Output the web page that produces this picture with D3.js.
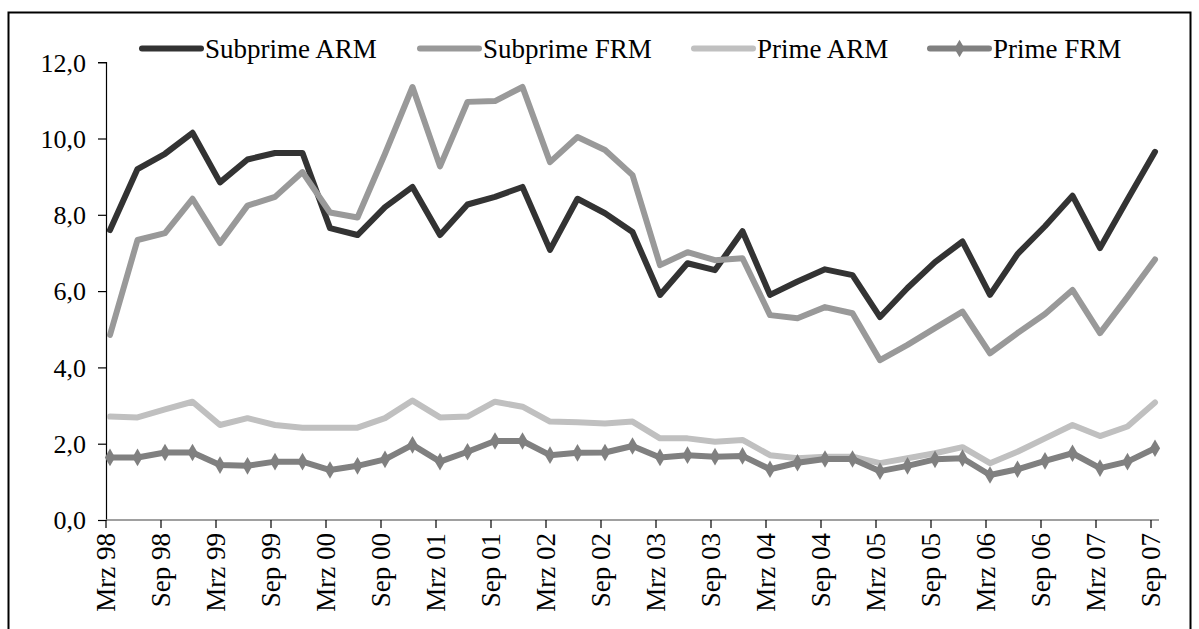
<!DOCTYPE html>
<meta charset="utf-8">
<style>
    body { margin: 0; background: #fff; }
    svg { display: block; }
    text { font-family: "Liberation Serif", "Times New Roman", serif; fill: #000; }
</style>
<body>
<svg width="1199" height="629"></svg>
<script src="https://d3js.org/d3.v7.min.js"></script>
<script>
    // quarters Mrz 98 .. Sep 07
    var quarters = ["Mrz 98","Jun 98","Sep 98","Dez 98","Mrz 99","Jun 99","Sep 99","Dez 99",
        "Mrz 00","Jun 00","Sep 00","Dez 00","Mrz 01","Jun 01","Sep 01","Dez 01",
        "Mrz 02","Jun 02","Sep 02","Dez 02","Mrz 03","Jun 03","Sep 03","Dez 03",
        "Mrz 04","Jun 04","Sep 04","Dez 04","Mrz 05","Jun 05","Sep 05","Dez 05",
        "Mrz 06","Jun 06","Sep 06","Dez 06","Mrz 07","Jun 07","Sep 07"];
    var tickLabels = ["Mrz 98","Sep 98","Mrz 99","Sep 99","Mrz 00","Sep 00","Mrz 01","Sep 01",
        "Mrz 02","Sep 02","Mrz 03","Sep 03","Mrz 04","Sep 04","Mrz 05","Sep 05",
        "Mrz 06","Sep 06","Mrz 07","Sep 07"];
    var yTicks = [0, 2, 4, 6, 8, 10, 12];

    var subprimeARM = [7.6,9.2,9.6,10.15,8.85,9.45,9.62,9.62,7.65,7.47,8.2,8.73,7.47,8.27,8.47,8.73,
        7.08,8.42,8.04,7.55,5.9,6.73,6.55,7.57,5.9,6.25,6.57,6.42,5.32,6.08,6.76,7.3,
        5.9,6.97,7.7,8.5,7.13,8.4,9.65];
    var subprimeFRM = [4.85,7.34,7.52,8.42,7.26,8.24,8.47,9.12,8.06,7.93,9.6,11.35,9.27,10.96,10.98,11.35,
        9.38,10.04,9.7,9.04,6.68,7.02,6.81,6.86,5.37,5.29,5.58,5.42,4.19,4.59,5.03,5.46,
        4.37,4.9,5.4,6.03,4.9,5.85,6.83];
    var primeARM = [2.71,2.69,2.9,3.1,2.49,2.67,2.49,2.42,2.42,2.42,2.67,3.13,2.69,2.71,3.1,2.97,
        2.58,2.56,2.53,2.58,2.14,2.14,2.05,2.1,1.7,1.62,1.66,1.66,1.49,1.62,1.75,1.91,
        1.49,1.79,2.14,2.49,2.2,2.45,3.08];
    var primeFRM = [1.64,1.64,1.77,1.77,1.44,1.42,1.53,1.53,1.31,1.42,1.59,1.97,1.53,1.79,2.07,2.07,
        1.7,1.76,1.77,1.94,1.64,1.7,1.66,1.68,1.33,1.5,1.6,1.6,1.28,1.42,1.59,1.62,
        1.18,1.33,1.55,1.75,1.36,1.53,1.88];

    var seriesNames = ["Subprime ARM", "Subprime FRM", "Prime ARM", "Prime FRM"];
    var seriesValues = [subprimeARM, subprimeFRM, primeARM, primeFRM];
    var seriesColors = ["#333333", "#999999", "#c0c0c0", "#808080"];

    var svg = d3.select("svg");

    // outer frame
    svg.append("rect")
        .attr("x", 8.5).attr("y", 12.5)
        .attr("width", 1182).attr("height", 640)
        .attr("fill", "none").attr("stroke", "#000").attr("stroke-width", 2);

    var x = d3.scaleLinear().domain([0, quarters.length - 1]).range([110, 1155]);
    var xTick = d3.scaleLinear().domain([0, quarters.length - 1]).range([106, 1151]);
    var y = d3.scaleLinear().domain([0, 12]).range([520, 62.2]);

    // y axis
    var gy = svg.append("g")
        .attr("transform", "translate(106,0)")
        .call(d3.axisLeft(y).tickValues(yTicks).tickSize(8).tickPadding(12)
            .tickFormat(function(d) { return d3.format(".1f")(d).replace(".", ","); }));
    gy.attr("font-family", "Liberation Serif").attr("font-size", 26);
    gy.select(".domain").attr("stroke", "#000").attr("stroke-width", 1.2);
    gy.selectAll(".tick line").attr("stroke", "#000").attr("stroke-width", 1.2);
    gy.selectAll(".tick text").attr("dy", "0.34em");

    // x axis
    var gx = svg.append("g")
        .attr("transform", "translate(0,520)");
    gx.append("line")
        .attr("x1", xTick(0)).attr("x2", 1159)
        .attr("stroke", "#808080").attr("stroke-width", 1.5);
    var tk = gx.selectAll(".xt").data(tickLabels).enter().append("g")
        .attr("class", "xt")
        .attr("transform", function(d, i) { return "translate(" + xTick(i * 2) + ",0)"; });
    tk.append("line").attr("y2", 8).attr("stroke", "#000").attr("stroke-width", 1.2);
    tk.append("text")
        .attr("transform", "translate(0,13) rotate(-90)")
        .attr("text-anchor", "end")
        .attr("dy", "0.34em")
        .attr("font-size", "27px")
        .text(function(d) { return d; });

    // lines
    var line = d3.line()
        .x(function(d, i) { return x(i); })
        .y(function(d) { return y(d); });

    seriesValues.forEach(function(vals, k) {
        svg.append("path")
            .datum(vals)
            .attr("fill", "none")
            .attr("stroke", seriesColors[k])
            .attr("stroke-width", 6)
            .attr("stroke-linejoin", "round")
            .attr("stroke-linecap", "round")
            .attr("d", line);
    });

    var diamond = d3.symbol().type(d3.symbolDiamond).size(90);
    svg.append("g").selectAll("path")
        .data(primeFRM)
        .enter().append("path")
        .attr("transform", function(d, i) { return "translate(" + x(i) + "," + y(d) + ")"; })
        .attr("d", diamond)
        .attr("fill", "#808080");

    // legend
    var legendX = [140, 418, 692, 928];
    var lg = svg.append("g");
    seriesNames.forEach(function(name, k) {
        var g = lg.append("g").attr("transform", "translate(" + legendX[k] + ",48.5)");
        g.append("line")
            .attr("x1", 2).attr("x2", 61)
            .attr("stroke", seriesColors[k]).attr("stroke-width", 6)
            .attr("stroke-linecap", "round");
        if (k === 3) {
            g.append("path").attr("transform", "translate(31.5,0)")
                .attr("d", diamond).attr("fill", seriesColors[k]);
        }
        g.append("text")
            .attr("x", 65).attr("dy", "0.34em")
            .attr("font-size", "27px")
            .text(name);
    });
</script>
</body>
